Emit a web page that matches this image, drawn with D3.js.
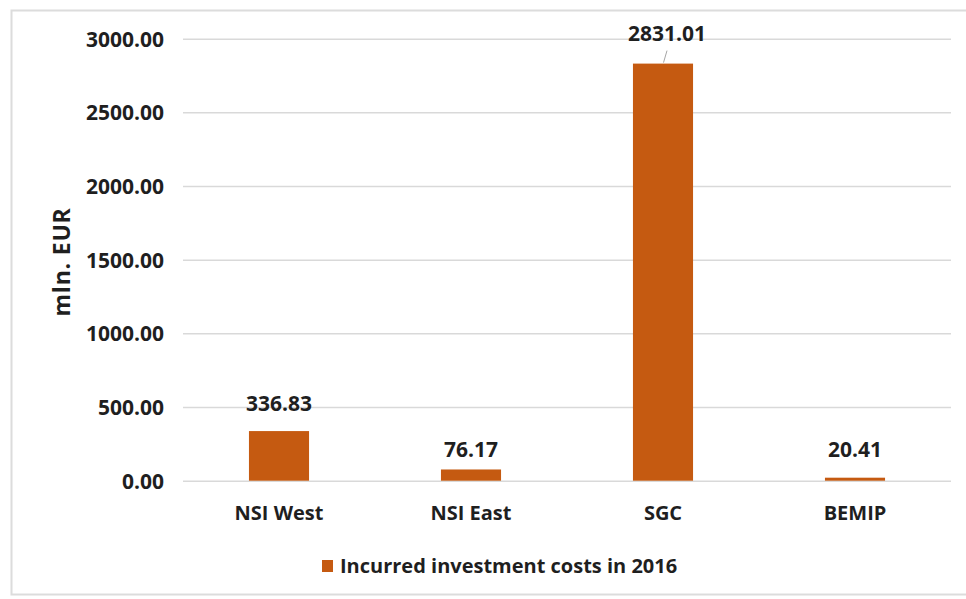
<!DOCTYPE html>
<html>
<head>
<meta charset="utf-8">
<script src="https://cdn.jsdelivr.net/npm/d3@7/dist/d3.min.js"></script>
<style>
  html, body { margin: 0; padding: 0; background: #ffffff; }
  svg { display: block; }
  text { font-family: "Open Sans", "Liberation Sans", Arial, sans-serif; font-weight: 700; fill: #1f1f1f; }
</style>
</head>
<body>
<svg id="chart" width="966" height="599"></svg>
<script>
// Incurred investment costs by corridor, 2016 (mln. EUR)
const categories = ["NSI West", "NSI East", "SGC", "BEMIP"];
const values = [336.83, 76.17, 2831.01, 20.41];
const yTicks = [0, 500, 1000, 1500, 2000, 2500, 3000];
const seriesName = "Incurred investment costs in 2016";
const yTitle = "mln. EUR";

const W = 966, H = 599;
const plot = { left: 183, right: 951, top: 38.7, bottom: 480.7 };
const barColor = "#C55A11";
const gridColor = "#d9d9d9";

const svg = d3.select("#chart");

// outer frame
svg.append("rect")
  .attr("x", 11.5).attr("y", 10.5)
  .attr("width", W + 10).attr("height", 584)
  .attr("fill", "none").attr("stroke", "#dcdcdc").attr("stroke-width", 2);

const x = d3.scaleBand()
  .domain(categories)
  .range([plot.left, plot.right])
  .paddingInner(0.687)
  .paddingOuter(0.3435);

const y = d3.scaleLinear()
  .domain([0, 3000])
  .range([plot.bottom, plot.top]);

// gridlines and y tick labels
const yAxis = d3.axisLeft(y)
  .tickValues(yTicks)
  .tickSize(-(plot.right - plot.left))
  .tickPadding(19)
  .tickFormat(d3.format(".2f"));

const gy = svg.append("g")
  .attr("transform", `translate(${plot.left},0)`)
  .call(yAxis);
gy.select(".domain").remove();
gy.selectAll(".tick line").attr("stroke", gridColor).attr("stroke-width", 1.5);
gy.selectAll(".tick text")
  .attr("font-size", 21)
  .attr("dy", "0.36em")
  .style("font-family", "'Open Sans', 'Liberation Sans', Arial, sans-serif")
  .style("font-weight", 700)
  .attr("fill", "#1f1f1f");

// category labels
const gx = svg.append("g")
  .attr("transform", `translate(0,${plot.bottom})`)
  .call(d3.axisBottom(x).tickSize(0).tickPadding(0));
gx.select(".domain").remove();
gx.selectAll(".tick text")
  .attr("y", 39)
  .attr("dy", 0)
  .attr("font-size", 20)
  .style("font-family", "'Open Sans', 'Liberation Sans', Arial, sans-serif")
  .style("font-weight", 700)
  .attr("fill", "#1f1f1f");

// bars
svg.append("g").selectAll("rect")
  .data(values)
  .join("rect")
  .attr("x", (d, i) => x(categories[i]))
  .attr("y", d => y(d))
  .attr("width", x.bandwidth())
  .attr("height", d => y(0) - y(d))
  .attr("fill", barColor);

// value labels above the bars
const labelLift = [20, 12, 23, 21];
const labelShift = [0, 0, 4, 0];
svg.append("g").selectAll("text")
  .data(values)
  .join("text")
  .attr("x", (d, i) => x(categories[i]) + x.bandwidth() / 2 + labelShift[i])
  .attr("y", (d, i) => y(d) - labelLift[i])
  .attr("text-anchor", "middle")
  .attr("font-size", 21)
  .text(d => d3.format(".2f")(d));

// leader line for the moved SGC label
const si = categories.indexOf("SGC");
const sx = x(categories[si]) + x.bandwidth() / 2;
svg.append("line")
  .attr("x1", sx + 4).attr("y1", y(values[si]) - 13)
  .attr("x2", sx + 0.5).attr("y2", y(values[si]) - 1)
  .attr("stroke", "#a6a6a6").attr("stroke-width", 1);

// y axis title
svg.append("text")
  .attr("transform", `translate(70,262) rotate(-90)`)
  .attr("text-anchor", "middle")
  .attr("font-size", 23)
  .attr("letter-spacing", 0.8)
  .text(yTitle);

// legend
const lg = svg.append("g").attr("transform", "translate(322,560)");
lg.append("rect").attr("x", 0).attr("y", 0).attr("width", 11).attr("height", 12).attr("fill", barColor);
lg.append("text").attr("x", 18).attr("y", 12.5).attr("font-size", 20).text(seriesName);
</script>
</body>
</html>
